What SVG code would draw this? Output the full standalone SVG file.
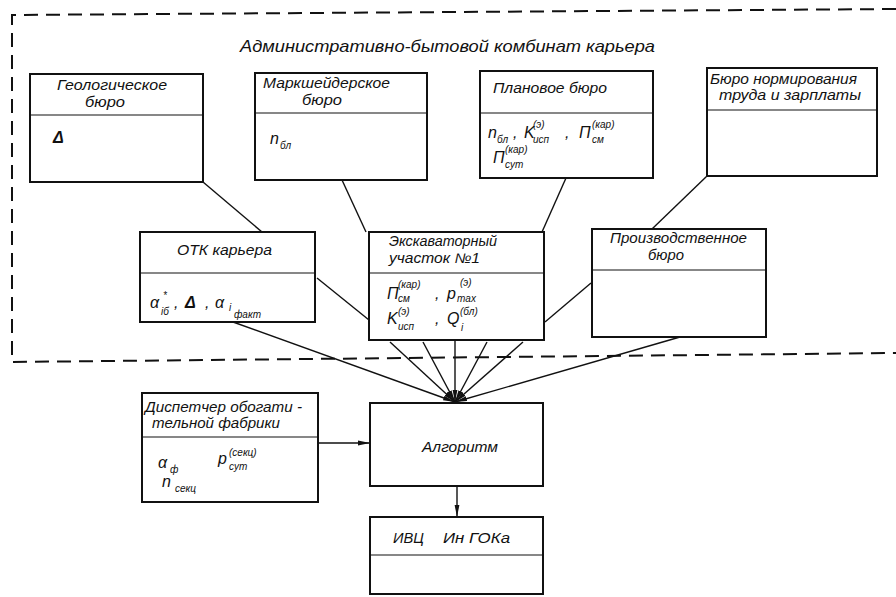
<svg xmlns="http://www.w3.org/2000/svg" width="896" height="597" viewBox="0 0 896 597">
  <defs>
    <marker id="arr" viewBox="0 0 12 6" refX="12" refY="3" markerWidth="12" markerHeight="6" markerUnits="userSpaceOnUse" orient="auto">
      <path d="M0,0.6 L12,3 L0,5.4 Z" fill="#111"/>
    </marker>
    <style>
      .box { fill: #fff; stroke: #111; stroke-width: 2; }
      .div { stroke: #111; stroke-width: 1.2; fill: none; }
      .link { stroke: #111; stroke-width: 1.4; fill: none; }
      .flow { stroke: #111; stroke-width: 1.4; fill: none; marker-end: url(#arr); }
      .frame { stroke: #111; stroke-width: 2; fill: none; stroke-dasharray: 14 8; }
      text { font-family: "Liberation Sans", "DejaVu Sans", sans-serif; font-style: italic; fill: #111; }
      .t { font-size: 14px; }
      .h { font-size: 17px; }
      .m { font-size: 16px; }
      .s { font-size: 10px; }
      .b { font-weight: bold; }
    </style>
  </defs>

  <rect width="896" height="597" fill="#fff"/>

  <!-- administrative building boundary -->
  <g id="frame">
    <polyline class="frame" points="896,9 12,15 12,362 896,353"/>
    <text class="h" x="240" y="52" textLength="415" lengthAdjust="spacingAndGlyphs">Административно-бытовой комбинат карьера</text>
  </g>

  <!-- connectors -->
  <g id="connectors">
    <line class="link" x1="203" y1="182" x2="262" y2="232"/>
    <line class="link" x1="342" y1="180" x2="366" y2="232"/>
    <line class="link" x1="566" y1="178" x2="542" y2="232"/>
    <line class="link" x1="707" y1="176" x2="652" y2="229"/>
    <line class="link" x1="317" y1="278" x2="369" y2="320"/>
    <line class="link" x1="545" y1="322" x2="591" y2="283"/>

    <line class="flow" x1="233" y1="322" x2="455" y2="402"/>
    <line class="flow" x1="390" y1="342" x2="455" y2="402"/>
    <line class="flow" x1="423" y1="342" x2="455" y2="402"/>
    <line class="flow" x1="455" y1="340" x2="455" y2="402"/>
    <line class="flow" x1="487" y1="342" x2="455" y2="402"/>
    <line class="flow" x1="523" y1="342" x2="455" y2="402"/>
    <line class="flow" x1="680" y1="337" x2="455" y2="402"/>

    <line class="flow" x1="318" y1="443" x2="370" y2="443"/>
    <line class="flow" x1="457" y1="486" x2="457" y2="517"/>
  </g>

  <!-- Geological bureau -->
  <g id="geo">
    <rect class="box" x="30" y="74" width="173" height="108"/>
    <line class="div" x1="30" y1="115" x2="203" y2="115"/>
    <text class="t" x="57" y="90" textLength="110" lengthAdjust="spacingAndGlyphs">Геологическое</text>
    <text class="t" x="85" y="107" textLength="40" lengthAdjust="spacingAndGlyphs">бюро</text>
    <text class="m b" x="53" y="143">Δ</text>
  </g>

  <!-- Mine surveying bureau -->
  <g id="mark">
    <rect class="box" x="255" y="73" width="172" height="107"/>
    <line class="div" x1="255" y1="113" x2="427" y2="113"/>
    <text class="t" x="263" y="88" textLength="127" lengthAdjust="spacingAndGlyphs">Маркшейдерское</text>
    <text class="t" x="302" y="105" textLength="40" lengthAdjust="spacingAndGlyphs">бюро</text>
    <text class="m" x="270" y="144">n</text>
    <text class="s" x="280" y="149">бл</text>
  </g>

  <!-- Planning bureau -->
  <g id="plan">
    <rect class="box" x="480" y="71" width="173" height="107"/>
    <line class="div" x1="480" y1="113" x2="653" y2="113"/>
    <text class="t" x="493" y="93" textLength="114" lengthAdjust="spacingAndGlyphs">Плановое бюро</text>
    <text class="m" x="488" y="138">n</text>
    <text class="s" x="497" y="143">бл</text>
    <text class="m" x="513" y="138">,</text>
    <text class="m" x="524" y="138">K</text>
    <text class="s" x="533" y="128">(э)</text>
    <text class="s" x="533" y="143">исп</text>
    <text class="m" x="565" y="138">,</text>
    <text class="m" x="579" y="138">П</text>
    <text class="s" x="592" y="128">(кар)</text>
    <text class="s" x="592" y="143">см</text>
    <text class="m" x="493" y="163">П</text>
    <text class="s" x="505" y="153">(кар)</text>
    <text class="s" x="505" y="168">сут</text>
  </g>

  <!-- Labour and wages bureau -->
  <g id="norm">
    <rect class="box" x="707" y="68" width="170" height="108"/>
    <line class="div" x1="707" y1="110" x2="877" y2="110"/>
    <text class="t" x="710" y="84" textLength="147" lengthAdjust="spacingAndGlyphs">Бюро нормирования</text>
    <text class="t" x="719" y="100" textLength="142" lengthAdjust="spacingAndGlyphs">труда и зарплаты</text>
  </g>

  <!-- Quality control department -->
  <g id="otk">
    <rect class="box" x="140" y="232" width="175" height="90"/>
    <line class="div" x1="140" y1="273" x2="315" y2="273"/>
    <text class="t" x="177" y="255" textLength="95" lengthAdjust="spacingAndGlyphs">ОТК карьера</text>
    <text class="m" x="150" y="308" font-size="18">α</text>
    <text class="s" x="163" y="299">*</text>
    <text class="s" x="161" y="315">iб</text>
    <text class="m" x="174" y="308">,</text>
    <text class="m b" x="185" y="308">Δ</text>
    <text class="m" x="205" y="308">,</text>
    <text class="m" x="215" y="308" font-size="18">α</text>
    <text class="s" x="229" y="311">i</text>
    <text class="s" x="234" y="318">факт</text>
  </g>

  <!-- Excavator section -->
  <g id="exc">
    <rect class="box" x="369" y="232" width="175" height="108"/>
    <line class="div" x1="369" y1="273" x2="544" y2="273"/>
    <text class="t" x="389" y="246" textLength="108" lengthAdjust="spacingAndGlyphs">Экскаваторный</text>
    <text class="t" x="389" y="263" textLength="91" lengthAdjust="spacingAndGlyphs">участок №1</text>
    <text class="m" x="387" y="299">П</text>
    <text class="s" x="398" y="288">(кар)</text>
    <text class="s" x="398" y="302">см</text>
    <text class="m" x="435" y="299">,</text>
    <text class="m" x="447" y="299">p</text>
    <text class="s" x="460" y="286">(э)</text>
    <text class="s" x="457" y="302">max</text>
    <text class="m" x="387" y="324">K</text>
    <text class="s" x="398" y="315">(э)</text>
    <text class="s" x="398" y="330">исп</text>
    <text class="m" x="435" y="324">,</text>
    <text class="m" x="447" y="324">Q</text>
    <text class="s" x="460" y="315">(бл)</text>
    <text class="s" x="461" y="331">i</text>
  </g>

  <!-- Production bureau -->
  <g id="prod">
    <rect class="box" x="592" y="229" width="174" height="108"/>
    <line class="div" x1="592" y1="270" x2="766" y2="270"/>
    <text class="t" x="610" y="243" font-size="13" textLength="137" lengthAdjust="spacingAndGlyphs">Производственное</text>
    <text class="t" x="648" y="260" font-size="13" textLength="36" lengthAdjust="spacingAndGlyphs">бюро</text>
  </g>

  <!-- Processing plant dispatcher -->
  <g id="disp">
    <rect class="box" x="142" y="393" width="176" height="109"/>
    <line class="div" x1="142" y1="437" x2="318" y2="437"/>
    <text class="t" x="145" y="412" textLength="157" lengthAdjust="spacingAndGlyphs">Диспетчер обогати -</text>
    <text class="t" x="152" y="428" textLength="128" lengthAdjust="spacingAndGlyphs">тельной фабрики</text>
    <text class="m" x="158" y="468" font-size="18">α</text>
    <text class="s" x="170" y="473">ф</text>
    <text class="m" x="218" y="464">p</text>
    <text class="s" x="229" y="456">(секц)</text>
    <text class="s" x="229" y="470">сут</text>
    <text class="m" x="162" y="487">n</text>
    <text class="s" x="175" y="492">секц</text>
  </g>

  <!-- Algorithm -->
  <g id="alg">
    <rect class="box" x="370" y="403" width="173" height="83"/>
    <text class="t" x="422" y="452" textLength="76" lengthAdjust="spacingAndGlyphs">Алгоритм</text>
  </g>

  <!-- Computing centre -->
  <g id="ivc">
    <rect class="box" x="370" y="517" width="173" height="77"/>
    <line class="div" x1="370" y1="555" x2="543" y2="555"/>
    <text class="t" x="393" y="543" textLength="31" lengthAdjust="spacingAndGlyphs">ИВЦ</text>
    <text class="t" x="443" y="543" textLength="67" lengthAdjust="spacingAndGlyphs">Ин ГОКа</text>
  </g>
</svg>
